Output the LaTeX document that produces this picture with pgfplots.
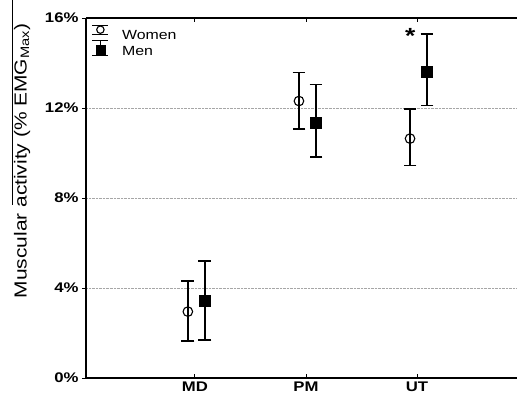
\documentclass[border=0pt]{standalone}
\usepackage{pgfplots}
\pgfplotsset{compat=1.18}
\usepackage{fontspec}
\setmainfont{Liberation Sans}[FakeStretch=1.2]
\newcommand{\tickfont}{\fontsize{14}{16}\selectfont\bfseries}
\begin{document}
\begin{tikzpicture}
\begin{axis}[
    scale only axis,
    width=431bp, height=360bp,
    xmin=0.02, xmax=3.9,
    ymin=0, ymax=16,
    axis x line*=box,
    axis y line*=left,
    axis line style={line width=1.1bp},
    xtick={1,2,3},
    xticklabels={{\tickfont MD},{\tickfont PM},{\tickfont UT}},
    xtick align=inside,
    ytick={0,4,8,12,16},
    yticklabel={\tickfont\pgfmathprintnumber{\tick}\%},
    ytick align=outside,
    major tick length=4bp,
    tick style={line width=0.8bp, black},
    ymajorgrids,
    grid style={gray!70, densely dotted, line width=0.6bp},
    /pgf/number format/assume math mode=true,
    ylabel={Muscular activity (\% EMG\textsubscript{Max})},
    ylabel style={font=\fontsize{17.5}{20}\selectfont, at={(axis description cs:-0.1485,0.603)}, anchor=center},
    legend style={at={(axis description cs:0,0.985)}, anchor=north west, draw=none, fill=none,
        font=\fontsize{13.3}{15}\selectfont, row sep=-1.5bp, inner sep=1bp, nodes={inner sep=0.5bp}},
    legend cell align=left,
    clip=false,
]
\addplot[forget plot, only marks, mark=o, mark size=4.8bp, mark options={fill=white, line width=1.1bp},
    error bars/.cd, y dir=both, y explicit,
    error bar style={line width=1.3bp},
    error mark options={rotate=90, mark size=6.4bp, line width=1.3bp},
] coordinates {
    (0.937,2.95) += (0,1.36) -= (0,1.31)
    (1.937,12.31) += (0,1.26) -= (0,1.24)
    (2.937,10.64) += (0,1.32) -= (0,1.20)
};
\addplot[forget plot, only marks, mark=square*, mark size=5.5bp, mark options={fill=black, line width=0.5bp},
    error bars/.cd, y dir=both, y explicit,
    error bar style={line width=1.3bp},
    error mark options={rotate=90, mark size=6.4bp, line width=1.3bp},
] coordinates {
    (1.09,3.42) += (0,1.78) -= (0,1.73)
    (2.09,11.36) += (0,1.69) -= (0,1.54)
    (3.09,13.61) += (0,1.68) -= (0,1.51)
};
\addlegendimage{legend image code/.code={
    \path (0bp,0bp) (34bp,0bp);
    \draw[line width=1.2bp] (5bp,10.5bp) -- (21bp,10.5bp) (5bp,1.5bp) -- (21bp,1.5bp) (13bp,1.5bp) -- (13bp,10.5bp);
    \draw[line width=1.1bp, fill=white] (13bp,6bp) circle (3.7bp);}}
\addlegendentry{Women}
\addlegendimage{legend image code/.code={
    \path (0bp,0bp) (34bp,0bp);
    \draw[line width=1.2bp] (5bp,11bp) -- (21bp,11bp) (5bp,-3.5bp) -- (21bp,-3.5bp) (13bp,-3.5bp) -- (13bp,11bp);
    \fill (8.5bp,-3.5bp) rectangle (17.5bp,6.5bp);}}
\addlegendentry{Men}
\node[font=\fontsize{22}{22}\selectfont\bfseries, anchor=center] at (axis cs:2.94,15.2) {*};
\draw[line width=0.8bp] (axis description cs:-0.1705,1.05) -- (axis description cs:-0.1705,0.48);
\end{axis}
\pgfresetboundingbox
\path (current axis.south west) ++(-86bp,-26bp) coordinate (bl);
\path (current axis.north east) ++(0bp,18bp) coordinate (tr);
\path[use as bounding box] (bl) rectangle (tr);
\end{tikzpicture}
\end{document}
